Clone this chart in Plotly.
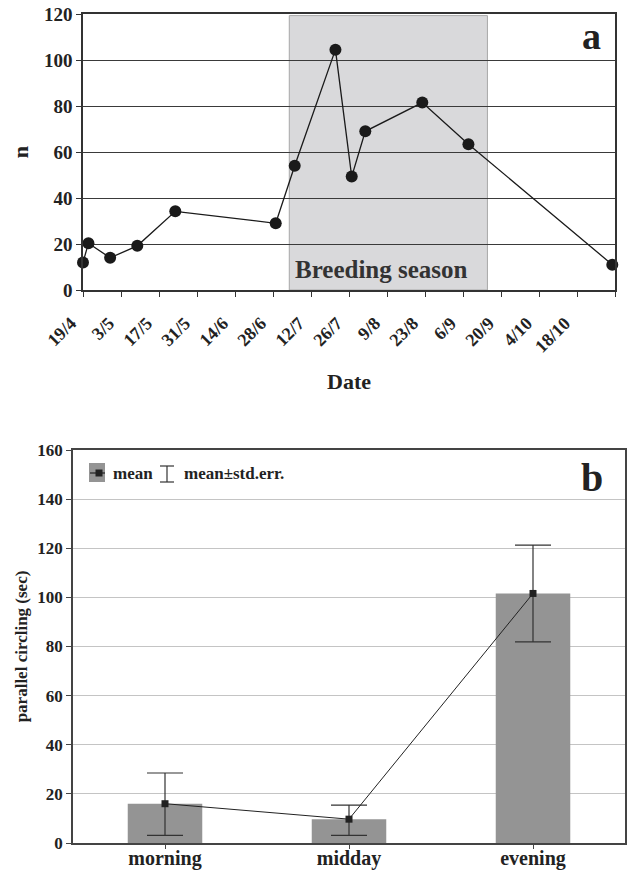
import plotly.graph_objects as go
from datetime import date, timedelta

# ---------------- Panel a data ----------------
YEAR = 2010
obs_dates = ["2010-04-19", "2010-04-21", "2010-04-29", "2010-05-09", "2010-05-23",
             "2010-06-29", "2010-07-06", "2010-07-21", "2010-07-27", "2010-08-01",
             "2010-08-22", "2010-09-08", "2010-10-31"]
obs_n = [12, 20.3, 14, 19.2, 34.2, 29, 54, 104.5, 49.3, 69, 81.5, 63.4, 11]

tick_labels_a = ["19/4", "3/5", "17/5", "31/5", "14/6", "28/6", "12/7", "26/7",
                 "9/8", "23/8", "6/9", "20/9", "4/10", "18/10", ""]
start_a = date(YEAR, 4, 19)
tick_dates_a = [(start_a + timedelta(days=14 * i)).isoformat() for i in range(len(tick_labels_a))]

breeding_start = "2010-07-04"
breeding_end = "2010-09-15"
breeding_top = 119.3

# ---------------- Panel b data ----------------
periods = ["morning", "midday", "evening"]
means = [16.0, 9.7, 101.6]
upper = [28.5, 15.4, 121.3]
lower = [3.1, 3.1, 81.9]

err_plus = [u - m for u, m in zip(upper, means)]
err_minus = [m - l for m, l in zip(means, lower)]

FONT = "Liberation Serif"
W, H = 627, 870

def px_x(v):
    return v / W

def px_y(v):
    return 1 - v / H

fig = go.Figure()

fig.add_trace(go.Scatter(
    x=obs_dates, y=obs_n, mode="lines+markers",
    line=dict(color="#1a1a1a", width=1.3),
    marker=dict(size=12, color="#1a1a1a"),
    cliponaxis=False, showlegend=False, xaxis="x", yaxis="y"))

fig.add_trace(go.Bar(
    x=periods, y=means, width=0.405, marker=dict(color="#949494", line=dict(width=0)),
    showlegend=False, xaxis="x2", yaxis="y2"))

fig.add_trace(go.Scatter(
    x=periods, y=means, mode="lines+markers",
    line=dict(color="#222222", width=1),
    marker=dict(size=7, symbol="square", color="#222222"),
    error_y=dict(type="data", array=err_plus, arrayminus=err_minus,
                 color="#333333", thickness=1.2, width=18),
    cliponaxis=False, showlegend=False, xaxis="x2", yaxis="y2"))

bold = dict(family=FONT, color="#222222", weight="bold")

fig.update_layout(
    width=W, height=H,
    margin=dict(l=0, r=0, t=0, b=0, autoexpand=False),
    paper_bgcolor="white", plot_bgcolor="white",
    showlegend=False,
    xaxis=dict(
        domain=[px_x(83), px_x(615)], anchor="y", type="date", automargin=False,
        range=[tick_dates_a[0], tick_dates_a[-1]],
        tickmode="array", tickvals=tick_dates_a, ticktext=tick_labels_a,
        tickangle=-45, ticks="outside", ticklen=5, tickcolor="#333333", tickwidth=1.3,
        ticklabelstandoff=9, ticklabelshift=-12, ticklabeloverflow="allow",
        tickfont=dict(size=18, **bold),
        showline=True, linecolor="#333333", linewidth=1.5, mirror=True,
        showgrid=False, zeroline=False,
        title=dict(text="Date", font=dict(size=22, **bold), standoff=18),
    ),
    yaxis=dict(
        domain=[px_y(290), px_y(14)], anchor="x", automargin=False,
        range=[0, 120], dtick=20, tick0=0,
        ticks="outside", ticklen=5, tickcolor="#333333", tickwidth=1.3,
        ticklabeloverflow="allow",
        tickfont=dict(size=19, **bold),
        showline=True, linecolor="#333333", linewidth=1.5, mirror=True,
        showgrid=True, gridcolor="#3a3a3a", gridwidth=1.3, zeroline=False,
        title=dict(text="n", font=dict(size=22, **bold), standoff=9),
    ),
    xaxis2=dict(
        domain=[px_x(73), px_x(625)], anchor="y2", automargin=False,
        range=[-0.5, 2.5],
        ticks="outside", ticklen=4, tickcolor="#444444",
        ticklabelstandoff=-8, ticklabeloverflow="allow",
        tickfont=dict(size=20, **bold),
        showline=True, linecolor="#444444", linewidth=1.5, mirror=True,
        showgrid=False, zeroline=False,
    ),
    yaxis2=dict(
        domain=[px_y(843), px_y(450)], anchor="x2", automargin=False,
        range=[0, 160], dtick=20, tick0=0,
        ticks="outside", ticklen=5, tickcolor="#444444",
        ticklabeloverflow="allow",
        tickfont=dict(size=17, **bold),
        showline=True, linecolor="#444444", linewidth=1.5, mirror=True,
        showgrid=True, gridcolor="#c4c4c4", gridwidth=1, zeroline=False,
        title=dict(text="parallel circling (sec)", font=dict(size=17, **bold), standoff=5),
    ),
)

# Breeding season shading
fig.add_shape(type="rect", xref="x", yref="y",
              x0=breeding_start, x1=breeding_end, y0=0, y1=breeding_top,
              fillcolor="#d9d9db", line=dict(color="#a8a8a8", width=1), layer="below")

label_breeding = "2010-08-07"
fig.add_annotation(x=label_breeding, y=9, xref="x", yref="y", text="Breeding season",
                   showarrow=False, xanchor="center", yanchor="middle",
                   font=dict(size=25, family=FONT, color="#333333", weight="bold"))

fig.add_annotation(x=px_x(591), y=px_y(36), xref="paper", yref="paper", text="a",
                   showarrow=False, xanchor="center", yanchor="middle",
                   font=dict(size=38, **bold))
fig.add_annotation(x=px_x(592), y=px_y(478), xref="paper", yref="paper", text="b",
                   showarrow=False, xanchor="center", yanchor="middle",
                   font=dict(size=40, **bold))

# Legend for panel b (drawn manually)
fig.add_shape(type="rect", xref="paper", yref="paper",
              x0=px_x(89), x1=px_x(105), y0=px_y(482), y1=px_y(463),
              fillcolor="#949494", line=dict(width=0))
fig.add_shape(type="line", xref="paper", yref="paper",
              x0=px_x(90), x1=px_x(105), y0=px_y(473), y1=px_y(473),
              line=dict(color="#222222", width=1.2))
fig.add_shape(type="rect", xref="paper", yref="paper",
              x0=px_x(95.5), x1=px_x(102.5), y0=px_y(476.5), y1=px_y(469.5),
              fillcolor="#222222", line=dict(width=0))
fig.add_shape(type="line", xref="paper", yref="paper",
              x0=px_x(167), x1=px_x(167), y0=px_y(466), y1=px_y(482),
              line=dict(color="#333333", width=1.2))
fig.add_shape(type="line", xref="paper", yref="paper",
              x0=px_x(160), x1=px_x(174), y0=px_y(466), y1=px_y(466),
              line=dict(color="#333333", width=1.2))
fig.add_shape(type="line", xref="paper", yref="paper",
              x0=px_x(160), x1=px_x(174), y0=px_y(482), y1=px_y(482),
              line=dict(color="#333333", width=1.2))
fig.add_annotation(x=px_x(111), y=px_y(473), xref="paper", yref="paper", text="mean",
                   xanchor="left", yanchor="middle", showarrow=False,
                   font=dict(size=17, **bold))
fig.add_annotation(x=px_x(182), y=px_y(473), xref="paper", yref="paper", text="mean±std.err.",
                   xanchor="left", yanchor="middle", showarrow=False,
                   font=dict(size=17, **bold))

fig.write_html("out.html", config={"displayModeBar": False},
               post_script="document.body.style.margin='0';document.body.style.overflow='hidden';")
